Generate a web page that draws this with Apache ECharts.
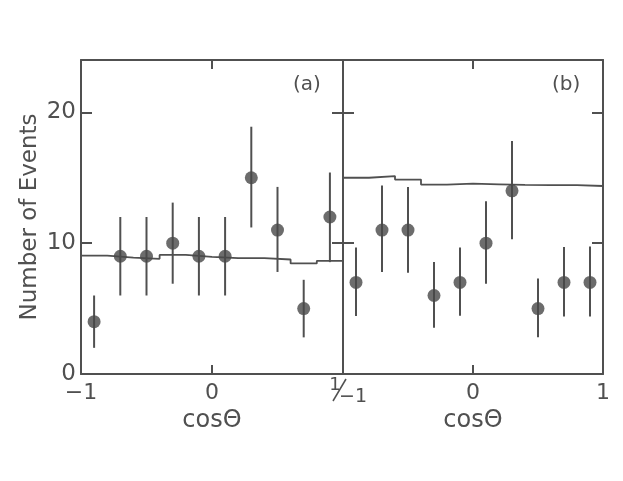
<!DOCTYPE html>
<html>
<head>
<meta charset="utf-8">
<script src="https://cdn.jsdelivr.net/npm/echarts@6/dist/echarts.min.js"></script>
<style>
html,body{margin:0;padding:0;background:#ffffff;}
#chart{width:623px;height:481px;}
</style>
</head>
<body>
<div id="chart"></div>
<script>
// ---- data ----
const binCenters = [-0.9, -0.7, -0.5, -0.3, -0.1, 0.1, 0.3, 0.5, 0.7, 0.9];
const binEdges = [-1, -0.8, -0.6, -0.4, -0.2, 0, 0.2, 0.4, 0.6, 0.8, 1];

const countsA = [4, 9, 9, 10, 9, 9, 15, 11, 5, 12];
const errLowA = [2.0, 6.0, 6.0, 6.9, 6.0, 6.0, 11.2, 7.8, 2.8, 8.55];
const errHighA = [6.0, 12.0, 12.0, 13.1, 12.0, 12.0, 18.9, 14.3, 7.2, 15.4];
const histA = [9.05, 8.9, 8.8, 9.1, 8.95, 8.85, 8.85, 8.75, 8.45, 8.65];

const countsB = [7, 11, 11, 6, 7, 10, 14, 5, 7, 7];
const errLowB = [4.43, 7.8, 7.73, 3.53, 4.45, 6.9, 10.3, 2.8, 4.4, 4.4];
const errHighB = [9.67, 14.4, 14.3, 8.57, 9.67, 13.2, 17.8, 7.3, 9.7, 9.75];
const histB = [15.0, 15.13, 14.86, 14.48, 14.55, 14.5, 14.45, 14.43, 14.43, 14.37];

const xTicks = [-1, 0, 1];
const yTicks = [0, 10, 20];
const yMax = 24;
const panelLabels = ['(a)', '(b)'];
const xTitle = 'cosΘ';
const yTitle = 'Number of Events';

// ---- styling ----
const INK = '#505050';
const FONT = 'DejaVu Sans';
const G = [
  {left: 81, top: 60, width: 262, height: 314},
  {left: 343, top: 60, width: 260, height: 314}
];

function pts(xs, ys) { return xs.map((x, i) => [x, ys[i]]); }
function stepData(vals) {
  const d = vals.map((v, i) => [binEdges[i], v]);
  d.push([binEdges[binEdges.length - 1], vals[vals.length - 1]]);
  return d;
}
function errData(lo, hi) { return binCenters.map((x, i) => [x, lo[i], hi[i]]); }

function xAx(grid, pos, showLabels, hideVal) {
  return {
    type: 'value', gridIndex: grid, position: pos, min: -1, max: 1, interval: 1,
    axisLine: {show: true, onZero: false, lineStyle: {color: INK, width: 2}},
    axisTick: {show: true, inside: true, length: 9, lineStyle: {color: INK, width: 2}},
    splitLine: {show: false},
    axisLabel: {
      show: showLabels, margin: 8, color: INK, fontFamily: FONT, fontSize: 22,
      formatter: v => (v === hideVal ? '' : (v < 0 ? '\u2212' + Math.abs(v) : String(v)))
    },
    name: (pos === 'bottom') ? xTitle : '',
    nameLocation: 'middle', nameGap: 35,
    nameTextStyle: {color: INK, fontFamily: FONT, fontSize: 24}
  };
}
function yAx(grid, pos, showLabels, name) {
  return {
    type: 'value', gridIndex: grid, position: pos, min: 0, max: yMax, interval: 10,
    axisLine: {show: true, onZero: false, lineStyle: {color: INK, width: 2}},
    axisTick: {show: true, inside: true, length: 11, lineStyle: {color: INK, width: 2}},
    splitLine: {show: false},
    axisLabel: {show: showLabels, margin: 5, color: INK, fontFamily: FONT, fontSize: 23,
      showMaxLabel: false,
      formatter: v => (yTicks.indexOf(v) >= 0 ? String(v) : '')},
    name: name || '', nameLocation: 'middle', nameGap: 39,
    nameTextStyle: {color: INK, fontFamily: FONT, fontSize: 23}
  };
}

function errSeries(xi, yi, lo, hi) {
  return {
    type: 'custom', xAxisIndex: xi, yAxisIndex: yi, data: errData(lo, hi), z: 3,
    renderItem: function (params, api) {
      const a = api.coord([api.value(0), api.value(1)]);
      const b = api.coord([api.value(0), api.value(2)]);
      return {type: 'line', shape: {x1: a[0], y1: a[1], x2: b[0], y2: b[1]},
        style: {stroke: INK, lineWidth: 2}};
    }
  };
}
function histSeries(xi, yi, vals) {
  return {type: 'line', xAxisIndex: xi, yAxisIndex: yi, step: 'end', data: stepData(vals),
    symbol: 'none', lineStyle: {color: INK, width: 1.8}, z: 2, silent: true};
}
function ptSeries(xi, yi, vals) {
  return {type: 'scatter', xAxisIndex: xi, yAxisIndex: yi, data: pts(binCenters, vals),
    symbol: 'circle', symbolSize: 13, itemStyle: {color: '#474747'}, z: 4};
}

const chart = echarts.init(document.getElementById('chart'), null, {renderer: 'canvas'});
chart.setOption({
  backgroundColor: '#ffffff',
  animation: false,
  grid: G.map(g => Object.assign({containLabel: false}, g)),
  xAxis: [
    xAx(0, 'bottom', true, 1), xAx(0, 'top', false),
    xAx(1, 'bottom', true, -1), xAx(1, 'top', false)
  ],
  yAxis: [
    yAx(0, 'left', true, yTitle), yAx(0, 'right', false),
    yAx(1, 'left', false), yAx(1, 'right', false)
  ],
  series: [
    histSeries(0, 0, histA), errSeries(0, 0, errLowA, errHighA), ptSeries(0, 0, countsA),
    histSeries(2, 2, histB), errSeries(2, 2, errLowB, errHighB), ptSeries(2, 2, countsB)
  ]
});

// panel labels and the shared "1 / -1" label at the joint
const jx = G[1].left, by = G[0].top + G[0].height;
chart.setOption({
  graphic: [
    {type: 'text', left: G[0].left + G[0].width - 50, top: G[0].top + 15,
      style: {text: panelLabels[0], fill: INK, font: '20px "DejaVu Sans"'}},
    {type: 'text', left: G[1].left + G[1].width - 51, top: G[1].top + 15,
      style: {text: panelLabels[1], fill: INK, font: '20px "DejaVu Sans"'}},
    {type: 'text', x: jx - 8, y: by + 2,
      style: {text: '1', fill: INK, font: '18px "DejaVu Sans"', align: 'center'}},
    {type: 'line', shape: {x1: jx - 10, y1: by + 27, x2: jx + 3, y2: by + 5},
      style: {stroke: INK, lineWidth: 1.5}},
    {type: 'text', x: jx + 10, y: by + 14,
      style: {text: '\u22121', fill: INK, font: '19px "DejaVu Sans"', align: 'center'}}
  ]
});
</script>
</body>
</html>
